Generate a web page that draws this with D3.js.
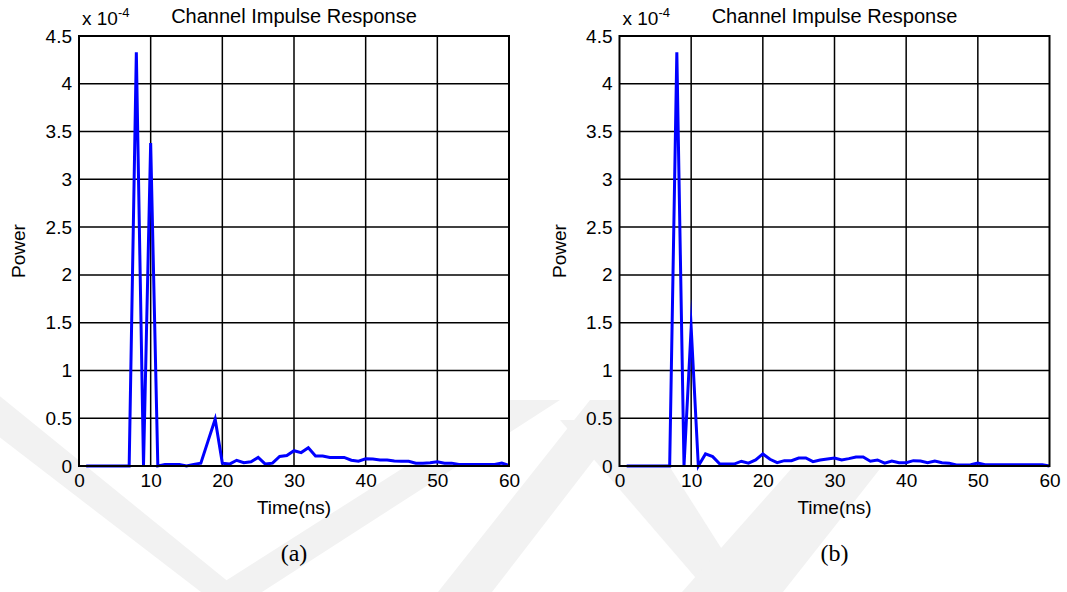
<!DOCTYPE html>
<html>
<head>
<meta charset="utf-8">
<script src="https://cdn.jsdelivr.net/npm/d3@7"></script>
<style>
  html, body { margin: 0; padding: 0; background: #ffffff; }
  svg { display: block; }
</style>
</head>
<body>
<svg id="chart" width="1067" height="592"></svg>
<script>
// Time axis (ns) shared by both panels
const timeNs = d3.range(1, 61);

// Power (x 1e-4) for panel (a), one value per ns from 1 to 60
const powerA = [
  0, 0, 0, 0, 0, 0, 0, 4.33, 0, 3.38,
  0, 0.017, 0.017, 0.017, 0.0, 0.017, 0.03, 0.26, 0.49, 0.03,
  0.02, 0.06, 0.035, 0.045, 0.09, 0.02, 0.03, 0.1, 0.11, 0.16,
  0.14, 0.19, 0.105, 0.105, 0.09, 0.09, 0.09, 0.06, 0.05, 0.075,
  0.073, 0.063, 0.063, 0.052, 0.05, 0.05, 0.03, 0.03, 0.035, 0.045,
  0.03, 0.03, 0.015, 0.015, 0.015, 0.015, 0.015, 0.015, 0.03, 0.005
];

// Power (x 1e-4) for panel (b)
const powerB = [
  0, 0, 0, 0, 0, 0, 0, 4.33, 0, 1.45,
  0, 0.126, 0.098, 0.02, 0.02, 0.02, 0.05, 0.03, 0.063, 0.126,
  0.07, 0.035, 0.056, 0.056, 0.084, 0.084, 0.045, 0.063, 0.073, 0.084,
  0.063, 0.077, 0.094, 0.094, 0.05, 0.063, 0.03, 0.052, 0.035, 0.035,
  0.056, 0.052, 0.035, 0.052, 0.035, 0.03, 0.01, 0.01, 0.014, 0.03,
  0.014, 0.014, 0.014, 0.014, 0.014, 0.014, 0.014, 0.014, 0.014, 0
];

const xTicks = [0, 10, 20, 30, 40, 50, 60];
const yTicks = [0, 0.5, 1, 1.5, 2, 2.5, 3, 3.5, 4, 4.5];
const titleText = "Channel Impulse Response";
const xLabel = "Time(ns)";
const yLabel = "Power";
const panelCaptions = ["(a)", "(b)"];

const svg = d3.select("#chart");

// pale diagonal watermark bands behind the figure
const wm = svg.append("g").attr("fill", "#f2f2f2");
const band = pts => wm.append("path").attr("d", d3.line()(pts) + "Z");
band([[-75, 380], [-20, 380], [241, 592], [201, 592]]);
band([[208, 592], [262, 592], [560, 400], [510, 400]]);
band([[438, 592], [492, 592], [640, 400], [590, 400]]);
band([[560, 420], [640, 420], [749, 592], [708, 592]]);
band([[682, 592], [783, 592], [950, 380], [870, 380]]);

const panels = [
  { left: 79, data: powerA, caption: panelCaptions[0] },
  { left: 619.5, data: powerB, caption: panelCaptions[1] }
];
const plotTop = 36, plotW = 430, plotH = 430;
const font = "'Liberation Sans', Arial, sans-serif";
const fs = 19;

panels.forEach(p => {
  const g = svg.append("g").attr("transform", `translate(${p.left},${plotTop})`);
  const x = d3.scaleLinear().domain([0, 60]).range([0, plotW]);
  const y = d3.scaleLinear().domain([0, 4.5]).range([plotH, 0]);

  g.append("rect").attr("width", plotW).attr("height", plotH).attr("fill", "#fff");

  // grid
  g.append("g").selectAll("line").data(xTicks.slice(1, -1)).join("line")
    .attr("x1", d => x(d)).attr("x2", d => x(d)).attr("y1", 0).attr("y2", plotH)
    .attr("stroke", "#000").attr("stroke-width", 1.5);
  g.append("g").selectAll("line").data(yTicks.slice(1, -1)).join("line")
    .attr("y1", d => y(d)).attr("y2", d => y(d)).attr("x1", 0).attr("x2", plotW)
    .attr("stroke", "#000").attr("stroke-width", 1.5);

  // series
  const line = d3.line().x((d, i) => x(timeNs[i])).y(d => y(d));
  g.append("path").datum(p.data).attr("d", line)
    .attr("fill", "none").attr("stroke", "#0000ff").attr("stroke-width", 3)
    .attr("stroke-linejoin", "miter").attr("stroke-miterlimit", 20);

  // frame
  g.append("rect").attr("width", plotW).attr("height", plotH)
    .attr("fill", "none").attr("stroke", "#000").attr("stroke-width", 2);

  // axes labels
  const xAxis = d3.axisBottom(x).tickValues(xTicks).tickSize(0).tickPadding(8);
  const gx = g.append("g").attr("transform", `translate(0,${plotH})`).call(xAxis);
  gx.select(".domain").remove();
  gx.selectAll("text").attr("font-family", font).attr("font-size", fs).attr("fill", "#000");

  const yAxis = d3.axisLeft(y).tickValues(yTicks).tickSize(0).tickPadding(7)
    .tickFormat(d3.format("~g"));
  const gy = g.append("g").call(yAxis);
  gy.select(".domain").remove();
  gy.selectAll("text").attr("font-family", font).attr("font-size", fs).attr("fill", "#000");

  // exponent label
  const ex = g.append("text").attr("x", 3).attr("y", -11)
    .attr("font-family", font).attr("font-size", fs).attr("fill", "#000");
  ex.append("tspan").text("x 10");
  ex.append("tspan").attr("dy", -8).attr("font-size", 13).text("-4");

  g.append("text").attr("x", plotW / 2).attr("y", -13).attr("text-anchor", "middle")
    .attr("font-family", font).attr("font-size", 20).attr("fill", "#000").text(titleText);

  g.append("text").attr("x", plotW / 2).attr("y", plotH + 48).attr("text-anchor", "middle")
    .attr("font-family", font).attr("font-size", fs).attr("fill", "#000").text(xLabel);

  g.append("text").attr("transform", `translate(-54,${plotH / 2}) rotate(-90)`)
    .attr("text-anchor", "middle").attr("font-family", font).attr("font-size", fs)
    .attr("fill", "#000").text(yLabel);

  g.append("text").attr("x", plotW / 2).attr("y", plotH + 95).attr("text-anchor", "middle")
    .attr("font-family", "'Liberation Serif', 'Times New Roman', serif").attr("font-size", 24)
    .attr("fill", "#000").text(p.caption);
});
</script>
</body>
</html>
